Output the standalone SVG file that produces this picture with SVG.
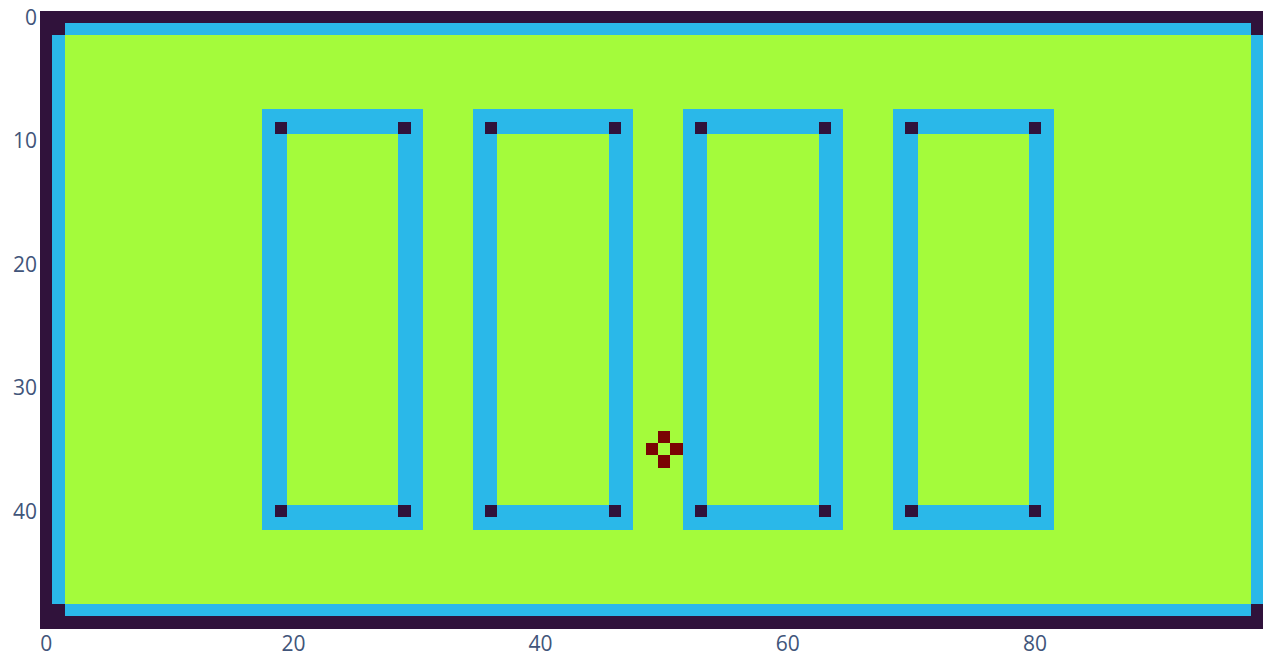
<svg xmlns="http://www.w3.org/2000/svg" width="1263" height="655" viewBox="0 0 1263 655">
  <style>
    .d{fill:#30123b}
    .b{fill:#2ab8e9}
    .g{fill:#a4fb3b}
    .r{fill:#7a0403}
    .t{font-family:"Open Sans","Noto Sans",sans-serif;font-size:21px;fill:#41557a}
  </style>
  <defs>
    <g id="room">
      <rect class="b" x="0" y="0" width="13" height="34"/>
      <rect class="g" x="2" y="2" width="9" height="30"/>
      <rect class="d" x="1" y="1" width="1" height="1"/>
      <rect class="d" x="11" y="1" width="1" height="1"/>
      <rect class="d" x="1" y="32" width="1" height="1"/>
      <rect class="d" x="11" y="32" width="1" height="1"/>
    </g>
  </defs>
  <rect x="0" y="0" width="1263" height="655" fill="#ffffff"/>
  <g id="heatmap" transform="translate(40,10.5) scale(12.36)" shape-rendering="crispEdges">
    <rect class="d" x="0" y="0" width="100" height="50"/>
    <rect class="b" x="2" y="1" width="96" height="48"/>
    <rect class="b" x="1" y="2" width="98" height="46"/>
    <rect class="g" x="2" y="2" width="96" height="46"/>
    <use href="#room" x="18" y="8"/>
    <use href="#room" x="35" y="8"/>
    <use href="#room" x="52" y="8"/>
    <use href="#room" x="69" y="8"/>
    <g id="marker">
      <rect class="r" x="50" y="34" width="1" height="1"/>
      <rect class="r" x="49" y="35" width="1" height="1"/>
      <rect class="r" x="51" y="35" width="1" height="1"/>
      <rect class="r" x="50" y="36" width="1" height="1"/>
    </g>
  </g>
  <g id="yaxis" text-anchor="end">
    <text class="t" x="37" y="24.5">0</text>
    <text class="t" x="37" y="148">10</text>
    <text class="t" x="37" y="271.5">20</text>
    <text class="t" x="37" y="395">30</text>
    <text class="t" x="37" y="518.5">40</text>
  </g>
  <g id="xaxis" text-anchor="middle">
    <text class="t" x="46.2" y="651">0</text>
    <text class="t" x="293.4" y="651">20</text>
    <text class="t" x="540.6" y="651">40</text>
    <text class="t" x="787.8" y="651">60</text>
    <text class="t" x="1035" y="651">80</text>
  </g>
</svg>
